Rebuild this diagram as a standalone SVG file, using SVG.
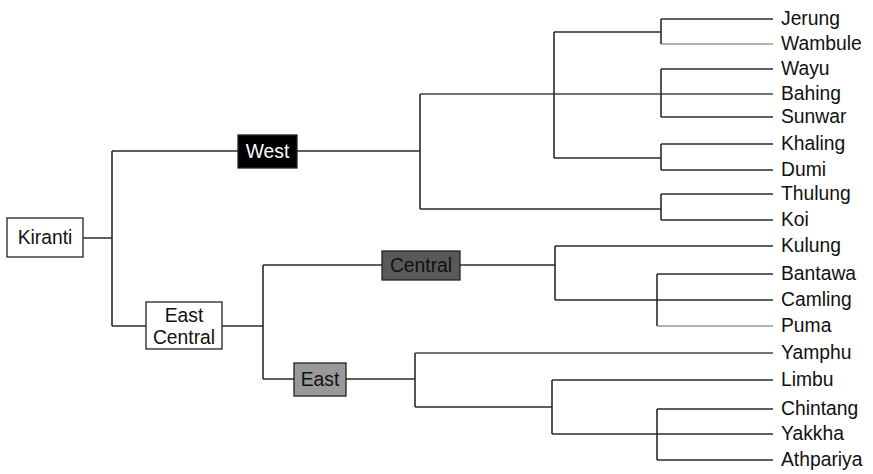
<svg xmlns="http://www.w3.org/2000/svg" width="873" height="474" viewBox="0 0 873 474">
<style>
text{font-family:"Liberation Sans",Arial,sans-serif;font-size:19.3px;fill:#111}
.c path{fill:none;stroke:#2b2b2b;stroke-width:1.6}
.c path.t{stroke:#666;stroke-width:1.1}
.c path.m{stroke:#444;stroke-width:1.3}
.box{stroke:#222;stroke-width:1.3}
</style>
<rect width="873" height="474" fill="#fff"/>
<g class="c" id="connectors">
<path d="M83 238H112M112 151V326M112 151H238M112 326H146"/>
<path d="M297 151H420M420 94V209M420 209H661"/>
<path class="m" d="M420 94H773"/>
<path d="M554 32V158M554 32H661M554 158H661"/>
<path d="M661 19V44M661 19H773M661 69V117M661 69H773M661 117H773M661 144V170M661 144H773M661 170H773M661 194V220M661 194H773M661 220H773"/>
<path class="t" d="M661 44H773"/>
<path d="M222 326H263M263 265V379M263 265H382M263 379H294"/>
<path d="M460 265H555M555 246V300M555 246H773M555 300H773"/>
<path d="M657 274V326M657 274H773"/>
<path class="t" d="M657 326H773"/>
<path d="M346 379H415M415 353V407M415 407H552"/>
<path class="m" d="M415 353H773"/>
<path d="M552 380V434M552 380H773M552 434H773M657 409V460M657 409H773M657 460H773"/>
</g>
<g id="kiranti"><rect class="box" x="7" y="218" width="76" height="39" fill="#fff"/><text x="45" y="244" text-anchor="middle">Kiranti</text></g>
<g id="west"><rect class="box" x="238" y="135" width="59" height="33" fill="#000"/><text x="267.5" y="158" text-anchor="middle" style="fill:#fff">West</text></g>
<g id="eastcentral"><rect class="box" x="146" y="302" width="76" height="47" fill="#fff"/><text x="184" y="322" text-anchor="middle">East</text><text x="184" y="344" text-anchor="middle">Central</text></g>
<g id="central"><rect class="box" x="382" y="251" width="78" height="29" fill="#595959"/><text x="421" y="272" text-anchor="middle">Central</text></g>
<g id="east"><rect class="box" x="294" y="363" width="52" height="33" fill="#999"/><text x="320" y="386" text-anchor="middle">East</text></g>
<g id="leaves">
<text x="781" y="25">Jerung</text>
<text x="781" y="50">Wambule</text>
<text x="781" y="75">Wayu</text>
<text x="781" y="100">Bahing</text>
<text x="781" y="123">Sunwar</text>
<text x="781" y="150">Khaling</text>
<text x="781" y="176">Dumi</text>
<text x="781" y="200">Thulung</text>
<text x="781" y="226">Koi</text>
<text x="781" y="252">Kulung</text>
<text x="781" y="280">Bantawa</text>
<text x="781" y="306">Camling</text>
<text x="781" y="332">Puma</text>
<text x="781" y="359">Yamphu</text>
<text x="781" y="386">Limbu</text>
<text x="781" y="415">Chintang</text>
<text x="781" y="440">Yakkha</text>
<text x="781" y="466">Athpariya</text>
</g>
</svg>
